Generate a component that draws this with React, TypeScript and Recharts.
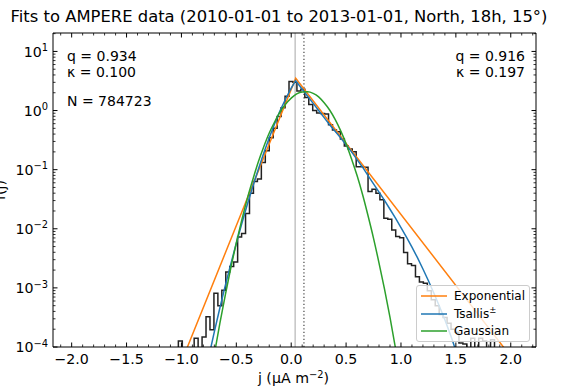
import React from "react";
import { ComposedChart, Line, XAxis, YAxis, ReferenceLine, Legend } from "recharts";

const FONT = '"DejaVu Sans", Verdana, sans-serif';
const ORANGE = "#ff7f0e";
const BLUE = "#1f77b4";
const GREEN = "#2ca02c";

// ---- axes ----
const X_DOMAIN = [-2.17, 2.23];
const Y_DOMAIN = [1e-4, 20.5];
const X_MAJOR_TICKS = [-2, -1.5, -1, -0.5, 0, 0.5, 1, 1.5, 2];
const X_MINOR_TICKS = [
  -2.1, -1.9, -1.8, -1.7, -1.6, -1.4, -1.3, -1.2, -1.1, -0.9, -0.8, -0.7, -0.6, -0.4, -0.3, -0.2, -0.1,
  0.1, 0.2, 0.3, 0.4, 0.6, 0.7, 0.8, 0.9, 1.1, 1.2, 1.3, 1.4, 1.6, 1.7, 1.8, 1.9, 2.1, 2.2,
];
const Y_MAJOR_TICKS = [1e-4, 1e-3, 1e-2, 1e-1, 1, 10];
const Y_TICK_EXPONENTS = ["−4", "−3", "−2", "−1", "0", "1"];
const Y_MINOR_TICKS = [
  2e-4, 3e-4, 4e-4, 5e-4, 6e-4, 7e-4, 8e-4, 9e-4,
  2e-3, 3e-3, 4e-3, 5e-3, 6e-3, 7e-3, 8e-3, 9e-3,
  0.02, 0.03, 0.04, 0.05, 0.06, 0.07, 0.08, 0.09,
  0.2, 0.3, 0.4, 0.5, 0.6, 0.7, 0.8, 0.9,
  2, 3, 4, 5, 6, 7, 8, 9, 20,
];

// ---- histogram (bin edges and density, 0 = empty bin) ----
const HIST_EDGES = [
  -1.028, -0.992, -0.956, -0.92, -0.884, -0.848, -0.812, -0.776, -0.74, -0.704,
  -0.668, -0.632, -0.596, -0.56, -0.524, -0.488, -0.452, -0.416, -0.38, -0.344,
  -0.308, -0.272, -0.236, -0.2, -0.164, -0.128, -0.092, -0.056, -0.02, 0.016,
  0.052, 0.088, 0.124, 0.16, 0.196, 0.232, 0.268, 0.304, 0.34, 0.376,
  0.412, 0.448, 0.484, 0.52, 0.556, 0.592, 0.628, 0.664, 0.7, 0.736,
  0.772, 0.808, 0.844, 0.88, 0.916, 0.952, 0.988, 1.024, 1.06, 1.096,
  1.132, 1.168, 1.204, 1.24, 1.276, 1.312, 1.348, 1.384, 1.42, 1.456,
  1.492, 1.528, 1.564, 1.6, 1.636, 1.672, 1.708, 1.744, 1.78, 1.816,
  1.852,
];
const HIST_DENSITY = [
  1.26e-4, 0, 0, 0, 1.41e-4, 0, 1.48e-4, 3.24e-4, 1.95e-4, 8.13e-4,
  5.01e-4, 9.12e-4, 1.86e-3, 2.29e-3, 2.75e-3, 7.24e-3, 8.32e-3, 0.0182, 0.0398, 0.0631,
  0.0692, 0.132, 0.209, 0.347, 0.501, 0.794, 1.12, 1.74, 3.09, 3.02,
  2.14, 2.29, 1.66, 1.26, 1.0, 0.912, 0.891, 0.871, 0.575, 0.468,
  0.437, 0.331, 0.251, 0.224, 0.2, 0.112, 0.112, 0.11, 0.0427, 0.0468,
  0.0398, 0.0309, 0.0151, 0.0145, 9.55e-3, 7.41e-3, 7.08e-3, 3.98e-3, 2.57e-3, 2.4e-3,
  1.55e-3, 1.26e-3, 1.2e-3, 8.91e-4, 6.31e-4, 5.01e-4, 3.55e-4, 3.16e-4, 2.51e-4, 2.0e-4,
  1.78e-4, 1.17e-4, 1.12e-4, 0, 1.41e-4, 0, 1.41e-4, 1.26e-4, 0, 1.32e-4,
];
const LOG_FLOOR = 1e-9; // empty bins are drawn below the axis, as on a log plot

// ---- fitted curves ----
const EXP_J = [-1.0, 0.041, 2.0];
const EXP_F = [5.6e-5, 3.52, 6.9e-5];

const TSALLIS_J = [
  -0.8, -0.75, -0.7, -0.65, -0.6, -0.55, -0.5, -0.45, -0.4, -0.35, -0.3, -0.25, -0.2, -0.15, -0.1, -0.05, 0.0, 0.04,
  0.1, 0.15, 0.2, 0.25, 0.3, 0.35, 0.4, 0.45, 0.5, 0.55, 0.6, 0.65, 0.7, 0.75, 0.8, 0.85, 0.9, 0.95, 1.0,
  1.05, 1.1, 1.15, 1.2, 1.25, 1.3, 1.35, 1.4, 1.45, 1.5, 1.55,
];
const TSALLIS_F = [
  2.5e-5, 6.9e-5, 1.82e-4, 4.57e-4, 1.1e-3, 2.54e-3, 5.69e-3, 0.0123, 0.0257, 0.0519, 0.101, 0.191, 0.347, 0.603, 1.01, 1.585, 2.39, 3.21,
  2.29, 1.74, 1.32, 1.0, 0.759, 0.575, 0.447, 0.347, 0.263, 0.2, 0.148, 0.11, 0.0794, 0.0575, 0.0417, 0.0302, 0.0214, 0.0151, 0.0105,
  7.24e-3, 4.9e-3, 3.24e-3, 2.09e-3, 1.32e-3, 8.13e-4, 4.9e-4, 2.88e-4, 1.62e-4, 8.7e-5, 4.5e-5,
];

const GAUSS_J = [
  -0.8, -0.75, -0.7, -0.65, -0.6, -0.55, -0.5, -0.45, -0.4, -0.35, -0.3, -0.25, -0.2, -0.15, -0.1, -0.05, 0.0,
  0.05, 0.1, 0.15, 0.2, 0.25, 0.3, 0.35, 0.4, 0.45, 0.5, 0.55, 0.6, 0.65, 0.7, 0.75, 0.8, 0.85, 0.9, 0.95, 1.0,
];
const GAUSS_F = [
  5.5e-6, 2.14e-5, 7.6e-5, 2.5e-4, 7.6e-4, 2.19e-3, 5.75e-3, 0.0141, 0.0324, 0.0676, 0.135, 0.245, 0.417, 0.646, 0.955, 1.29, 1.62,
  1.91, 2.06, 2.07, 1.95, 1.7, 1.35, 1.02, 0.708, 0.457, 0.275, 0.151, 0.0794, 0.038, 0.0166, 6.9e-3, 2.63e-3, 9.5e-4, 3.16e-4, 9.5e-5, 2.75e-5,
];

const MODE_J = 0.036;
const MEAN_J = 0.116;

const LEFT_FIT = { q: "0.934", kappa: "0.100" };
const RIGHT_FIT = { q: "0.916", kappa: "0.197" };
const N_SAMPLES = "784723";
const LEGEND_ORDER = ["Exponential", "Tsallis±", "Gaussian"];

// ---- tables for the library ----
const histData: { x: number; y: number }[] = [{ x: HIST_EDGES[0], y: LOG_FLOOR }];
HIST_DENSITY.forEach((v, i) => histData.push({ x: HIST_EDGES[i], y: v > 0 ? v : LOG_FLOOR }));
histData.push({ x: HIST_EDGES[HIST_EDGES.length - 1], y: HIST_DENSITY[HIST_DENSITY.length - 1] || LOG_FLOOR });
histData.push({ x: HIST_EDGES[HIST_EDGES.length - 1], y: LOG_FLOOR });

const expData = EXP_J.map((x, i) => ({ x, y: EXP_F[i] }));
const tsallisData = TSALLIS_J.map((x, i) => ({ x, y: TSALLIS_F[i] }));
const gaussData = GAUSS_J.map((x, i) => ({ x, y: GAUSS_F[i] }));

const X_TICKS = [...X_MAJOR_TICKS, ...X_MINOR_TICKS].sort((a, b) => a - b);
const Y_TICKS = [...Y_MAJOR_TICKS, ...Y_MINOR_TICKS].sort((a, b) => a - b);

const isXMajor = (v: number) => X_MAJOR_TICKS.some((m) => Math.abs(m - v) < 1e-9);
const yMajorIndex = (v: number) => Y_MAJOR_TICKS.findIndex((m) => Math.abs(m - v) <= 1e-9 * m);
const fmtX = (v: number) => (v < -1e-9 ? "−" : "") + Math.abs(v).toFixed(1);

const MAJ = 4.5;
const MIN = 2.5;

function BottomTick(props: any) {
  const { x, y, payload } = props;
  const major = isXMajor(payload.value);
  return (
    <g>
      <line x1={x} x2={x} y1={y} y2={y - (major ? MAJ : MIN)} stroke="#000" strokeWidth={major ? 1 : 0.8} />
      {major && (
        <text x={x} y={y + 16.5} textAnchor="middle" fontFamily={FONT} fontSize={14.2} fill="#000">
          {fmtX(payload.value)}
        </text>
      )}
    </g>
  );
}

function TopTick(props: any) {
  const { x, y, payload } = props;
  const major = isXMajor(payload.value);
  return <line x1={x} x2={x} y1={y} y2={y + (major ? MAJ : MIN)} stroke="#000" strokeWidth={major ? 1 : 0.8} />;
}

function LeftTick(props: any) {
  const { x, y, payload } = props;
  const idx = yMajorIndex(payload.value);
  const major = idx >= 0;
  return (
    <g>
      <line x1={x} x2={x + (major ? MAJ : MIN)} y1={y} y2={y} stroke="#000" strokeWidth={major ? 1 : 0.8} />
      {major && (
        <text x={x - 5} y={y + 5.2} textAnchor="end" fontFamily={FONT} fontSize={14.2} fill="#000">
          <tspan>10</tspan>
          <tspan dy={-5.5} fontSize={9.9}>
            {Y_TICK_EXPONENTS[idx]}
          </tspan>
        </text>
      )}
    </g>
  );
}

function RightTick(props: any) {
  const { x, y, payload } = props;
  const major = yMajorIndex(payload.value) >= 0;
  return <line x1={x} x2={x - (major ? MAJ : MIN)} y1={y} y2={y} stroke="#000" strokeWidth={major ? 1 : 0.8} />;
}

function LegendBox(props: any) {
  const items = (props.payload || [])
    .filter((p: any) => p.type !== "none" && LEGEND_ORDER.includes(String(p.value)))
    .sort((a: any, b: any) => LEGEND_ORDER.indexOf(String(a.value)) - LEGEND_ORDER.indexOf(String(b.value)));
  return (
    <div
      style={{
        position: "relative",
        boxSizing: "border-box",
        width: 114,
        height: 57,
        border: "1px solid #cccccc",
        borderRadius: 3,
        background: "rgba(255,255,255,0.8)",
        fontFamily: FONT,
        fontSize: 12,
        color: "#000",
      }}
    >
      {items.map((it: any, i: number) => {
        const name: string = String(it.value);
        const sup = name.endsWith("±");
        return (
          <div key={name} style={{ position: "absolute", left: 0, top: 10 + 17.5 * i - 9, height: 18, width: 112 }}>
            <svg width={30} height={18} style={{ position: "absolute", left: 3, top: 0 }}>
              <line x1={1} x2={27} y1={9} y2={9} stroke={it.color} strokeWidth={1.5} />
            </svg>
            <span style={{ position: "absolute", left: 37, top: 1, lineHeight: "16px", whiteSpace: "nowrap" }}>
              {sup ? name.slice(0, -1) : name}
              {sup && <sup style={{ fontSize: 8.5, verticalAlign: "5px", lineHeight: 0 }}>±</sup>}
            </span>
          </div>
        );
      })}
    </div>
  );
}

export default function App() {
  return (
    <div style={{ position: "absolute", left: 0, top: 0, width: 578, height: 388, background: "#fff" }}>
      <ComposedChart width={578} height={388} margin={{ top: 3, right: 12, bottom: 0, left: 0 }}>
        <XAxis
          xAxisId="b"
          type="number"
          dataKey="x"
          domain={X_DOMAIN}
          allowDataOverflow
          ticks={X_TICKS}
          interval={0}
          tickSize={0}
          tickMargin={0}
          tickLine={false}
          tick={BottomTick}
          height={41}
          axisLine={{ stroke: "#000", strokeWidth: 1 }}
        />
        <XAxis
          xAxisId="t"
          orientation="top"
          type="number"
          dataKey="x"
          domain={X_DOMAIN}
          allowDataOverflow
          ticks={X_TICKS}
          interval={0}
          tickSize={0}
          tickMargin={0}
          tickLine={false}
          tick={TopTick}
          height={30}
          axisLine={{ stroke: "#000", strokeWidth: 1 }}
        />
        <YAxis
          yAxisId="l"
          type="number"
          scale="log"
          domain={Y_DOMAIN}
          allowDataOverflow
          ticks={Y_TICKS}
          interval={0}
          tickSize={0}
          tickMargin={0}
          tickLine={false}
          tick={LeftTick}
          width={53}
          axisLine={{ stroke: "#000", strokeWidth: 1 }}
        />
        <YAxis
          yAxisId="r"
          orientation="right"
          type="number"
          scale="log"
          domain={Y_DOMAIN}
          allowDataOverflow
          ticks={Y_TICKS}
          interval={0}
          tickSize={0}
          tickMargin={0}
          tickLine={false}
          tick={RightTick}
          width={30}
          axisLine={{ stroke: "#000", strokeWidth: 1 }}
        />
        <ReferenceLine xAxisId="b" yAxisId="l" x={MODE_J} stroke="#c4c4c4" strokeWidth={1.5} />
        <ReferenceLine xAxisId="b" yAxisId="l" x={MEAN_J} stroke="#555" strokeWidth={1.3} strokeDasharray="1.3 2.2" />
        <Line
          xAxisId="b"
          yAxisId="l"
          data={histData}
          dataKey="y"
          type="stepAfter"
          stroke="#222"
          strokeWidth={1.5}
          dot={false}
          isAnimationActive={false}
          legendType="none"
          name="histogram"
        />
        <Line
          xAxisId="b"
          yAxisId="l"
          data={expData}
          dataKey="y"
          type="linear"
          stroke={ORANGE}
          strokeWidth={1.5}
          dot={false}
          isAnimationActive={false}
          name="Exponential"
        />
        <Line
          xAxisId="b"
          yAxisId="l"
          data={tsallisData}
          dataKey="y"
          type="linear"
          stroke={BLUE}
          strokeWidth={1.5}
          dot={false}
          isAnimationActive={false}
          name="Tsallis±"
        />
        <Line
          xAxisId="b"
          yAxisId="l"
          data={gaussData}
          dataKey="y"
          type="monotone"
          stroke={GREEN}
          strokeWidth={1.5}
          dot={false}
          isAnimationActive={false}
          name="Gaussian"
        />
        <Legend
          layout="vertical"
          verticalAlign="middle"
          align="center"
          content={LegendBox}
          wrapperStyle={{ position: "absolute", left: 416, top: 285, width: 114, height: 57 }}
        />
      </ComposedChart>
      <svg
        width={578}
        height={388}
        style={{ position: "absolute", left: 0, top: 0, pointerEvents: "none" }}
        fontFamily={FONT}
      >
        <text x={279} y={21.5} textAnchor="middle" fontSize={16.4} fill="#000">
          Fits to AMPERE data (2010-01-01 to 2013-01-01, North, 18h, 15°)
        </text>
        <text x={67} y={61} fontSize={14} fill="#000">{`q = ${LEFT_FIT.q}`}</text>
        <text x={67} y={76.5} fontSize={14} fill="#000">{`κ = ${LEFT_FIT.kappa}`}</text>
        <text x={67} y={106} fontSize={14} fill="#000">{`N = ${N_SAMPLES}`}</text>
        <text x={525} y={61} fontSize={14} textAnchor="end" fill="#000">{`q = ${RIGHT_FIT.q}`}</text>
        <text x={525} y={76.5} fontSize={14} textAnchor="end" fill="#000">{`κ = ${RIGHT_FIT.kappa}`}</text>
        <text x={293.5} y={383} fontSize={14.2} textAnchor="middle" fill="#000">
          <tspan>j (μA m</tspan>
          <tspan dy={-5.5} fontSize={9.9}>−2</tspan>
          <tspan dy={5.5}>)</tspan>
        </text>
        <text transform="translate(5,190) rotate(-90)" fontSize={14.2} textAnchor="middle" fill="#000">
          f(j)
        </text>
      </svg>
    </div>
  );
}
